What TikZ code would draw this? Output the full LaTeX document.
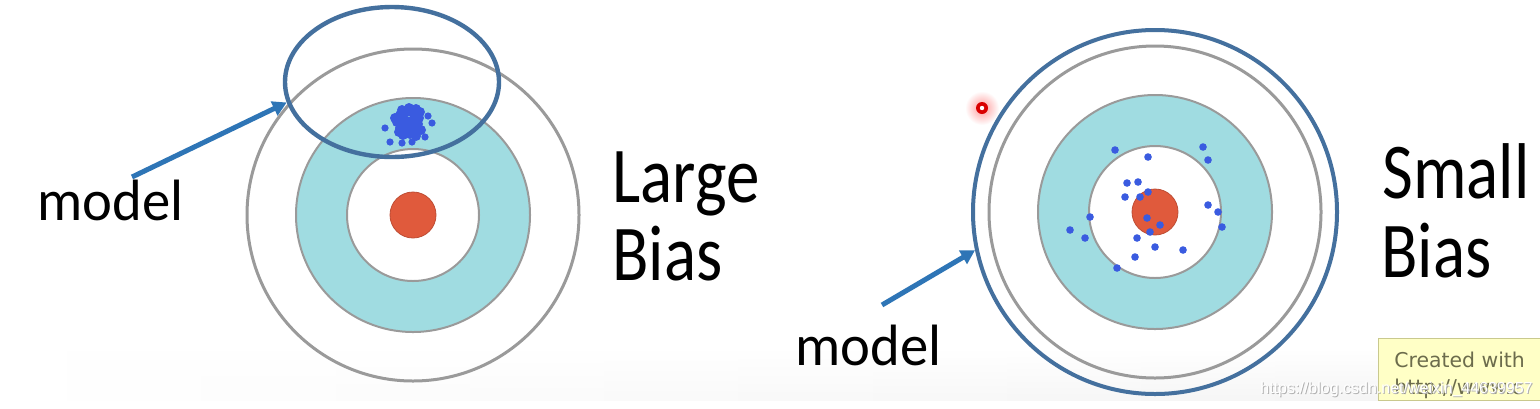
\documentclass[tikz,border=0pt]{standalone}
\usepackage{fontspec}
\setmainfont{Carlito}
\newfontfamily\tipfont{DejaVu Sans}
\newfontfamily\wmfont{Liberation Sans}
\usetikzlibrary{arrows.meta,shapes.geometric,fadings}
\definecolor{tealfill}{HTML}{A0DCE1}
\definecolor{ringgray}{HTML}{9A9A9A}
\definecolor{bullred}{HTML}{E05A3C}
\definecolor{markblue}{HTML}{44709E}
\definecolor{arrowblue}{HTML}{2E75B6}
\definecolor{dotblue}{HTML}{3A5BE0}
\definecolor{tipyellow}{HTML}{FFFFC6}
\definecolor{tipborder}{HTML}{C9C98E}
\definecolor{tiptext}{HTML}{6C6C4C}
\tikzfading[name=bandfade, top color=transparent!100, bottom color=transparent!0]
\tikzset{
  outerring/.style={circle,draw=ringgray,line width=1.5pt,minimum size=166pt,inner sep=0},
  tealring/.style={circle,draw=ringgray,line width=1pt,fill=tealfill,minimum size=117pt,inner sep=0},
  innerring/.style={circle,draw=ringgray,line width=1pt,fill=white,minimum size=66pt,inner sep=0},
  bullseye/.style={circle,draw=bullred!85!black,line width=0.4pt,fill=bullred,minimum size=23pt,inner sep=0},
  bigtext/.style={anchor=base west,inner sep=0,yscale=1.18,font=\fontsize{33.5}{40}\selectfont},
  modeltext/.style={anchor=base west,inner sep=0,yscale=1.03,font=\fontsize{28.3}{33}\selectfont},
  pointer/.style={draw=arrowblue,line width=2.5pt,-{Triangle[length=7pt,width=7.5pt]}},
  hit/.style={fill=dotblue},
  tiplabel/.style={anchor=base west,inner sep=0,text=tiptext,font=\tipfont\fontsize{10.2}{12}\selectfont},
}
\begin{document}
\begin{tikzpicture}[x=0.5pt,y=-0.5pt]
\useasboundingbox (0,0) rectangle (1540,408);
\fill[white] (0,0) rectangle (1540,408);
% faint bottom band
\shade[left color=white,right color=gray!9,path fading=bandfade] (0,350) rectangle (1540,400);

% ---------- left target ----------
\node[outerring] (lo) at (413,215) {};
\node[tealring] (lt) at (413,215) {};
\node[innerring] (li) at (413,215) {};
\node[bullseye] (lr) at (413,215) {};
% clustered hits
\foreach \p in {(400,115),(407,112),(414,114),(419,118),(397,122),(404,120),(411,121),(418,124),
  (400,128),(407,129),(414,128),(421,130),(403,135),(410,134),(416,136),(395,118),(409,108),
  (416,109),(402,110),(420,112),(407,125),(399,132)}
  \fill[hit] \p circle[radius=5];
\foreach \p in {(385,128),(432,123),(425,137),(390,142),(402,143),(412,142),(428,116)}
  \fill[hit] \p circle[radius=3.6];
\node[ellipse,draw=markblue,line width=2.2pt,minimum width=107pt,minimum height=75pt,inner sep=0] (le) at (392,82) {};

\node[modeltext] (lm) at (37,220) {model};
\coordinate (lms) at (132,177);
\draw[pointer] (lms) -- (le.191);

\node[bigtext] (lg) at (612,202) {Large};
\node[bigtext] (lb) at (612,280) {Bias};

% ---------- right target ----------
\node[outerring] (ro) at (1155,212) {};
\node[tealring] (rt) at (1155,212) {};
\node[innerring] (ri) at (1155,212) {};
\node[bullseye] (rr) at (1155,212) {};
\foreach \p in {(1115,150),(1148,157),(1203,147),(1208,160),(1127,183),(1138,182),(1125,197),
  (1140,197),(1148,192),(1208,205),(1218,212),(1222,227),(1090,217),(1070,230),(1085,238),
  (1147,218),(1160,225),(1150,232),(1137,238),(1155,247),(1183,250),(1135,257),(1117,268)}
  \fill[hit] \p circle[radius=3.8];
\node[circle,draw=markblue,line width=2pt,minimum size=182pt,inner sep=0] (rb) at (1155,212) {};

\node[modeltext] (rm) at (795,365) {model};
\coordinate (rms) at (882,305);
\draw[pointer] (rms) -- (rb.192);

\node[bigtext] (rs) at (1382,198) {Small};
\node[bigtext] (rbias) at (1381,277) {Bias};

% cursor marker
\shade[inner color=red!40,outer color=white] (982,108) circle[radius=17];
\fill[red!85!black] (982,108) circle[radius=6];
\fill[white] (982,108) circle[radius=2.2];

% ---------- tooltip box ----------
\begin{scope}
\clip (1378,338) rectangle (1540,400);
\node[draw=tipborder,fill=tipyellow,line width=0.6pt,minimum width=90pt,minimum height=31pt,anchor=north west,inner sep=0] (tip) at (1378,338) {};
\node[tiplabel] (tip1) at (1394,367) {Created with};
\node[tiplabel] (tip2) at (1394,394) {http://www.c};
\end{scope}

% watermark
\node[anchor=base west,inner sep=0,text=gray!60,font=\wmfont\fontsize{8}{10}\selectfont] (wms) at (1261,394) {https://blog.csdn.net/weixin\_44639957};
\node[anchor=base west,inner sep=0,text=white,font=\wmfont\fontsize{8}{10}\selectfont] (wm) at (1260,393) {https://blog.csdn.net/weixin\_44639957};
\end{tikzpicture}
\end{document}
